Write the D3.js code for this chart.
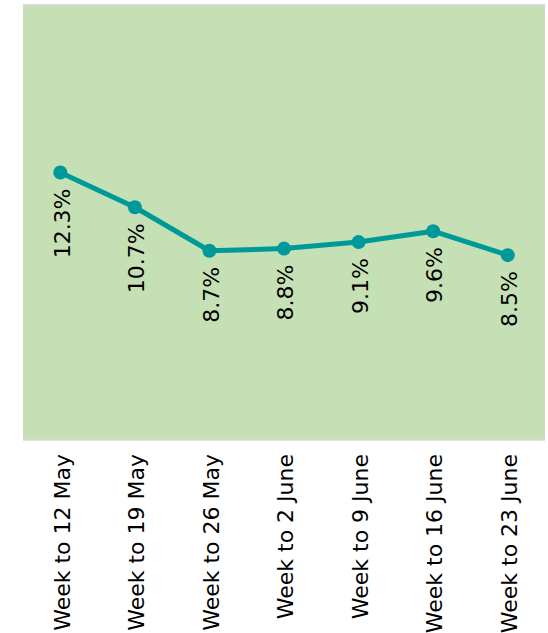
<!DOCTYPE html>
<html>
<head>
<meta charset="utf-8">
<script src="https://cdn.jsdelivr.net/npm/d3@7"></script>
<style>
  body { margin: 0; background: #fff; }
  text { font-family: "DejaVu Sans", Verdana, sans-serif; }
</style>
</head>
<body>
<div id="chart"></div>
<script>
// weekly share
const weeks = ["Week to 12 May", "Week to 19 May", "Week to 26 May", "Week to 2 June",
               "Week to 9 June", "Week to 16 June", "Week to 23 June"];
const shares = [12.3, 10.7, 8.7, 8.8, 9.1, 9.6, 8.5];
const yDomain = [0, 20];

const W = 548, H = 633;
const plot = { left: 23, right: 545, top: 5, bottom: 440 };

const svg = d3.select("#chart").append("svg")
    .attr("width", W)
    .attr("height", H);

const x = d3.scaleBand()
    .domain(weeks)
    .range([plot.left, plot.right]);

const y = d3.scaleLinear()
    .domain(yDomain)
    .range([plot.bottom, plot.top]);

// background
svg.append("rect")
    .attr("x", plot.left)
    .attr("y", plot.top)
    .attr("width", plot.right - plot.left)
    .attr("height", plot.bottom - plot.top)
    .attr("fill", "#c5e0b4");

svg.append("line")
    .attr("x1", plot.left).attr("x2", plot.right)
    .attr("y1", plot.top).attr("y2", plot.top)
    .attr("stroke", "#d9d9d9").attr("stroke-width", 2);

svg.append("line")
    .attr("x1", plot.left).attr("x2", plot.right)
    .attr("y1", plot.bottom).attr("y2", plot.bottom)
    .attr("stroke", "#d9d9d9").attr("stroke-width", 1.5);

const cx = d => x(d) + x.bandwidth() / 2;

const line = d3.line()
    .x((d, i) => cx(weeks[i]))
    .y(d => y(d));

svg.append("path")
    .datum(shares)
    .attr("d", line)
    .attr("fill", "none")
    .attr("stroke", "#009999")
    .attr("stroke-width", 5)
    .attr("stroke-linejoin", "round");

svg.selectAll(".dot")
    .data(shares)
    .enter().append("circle")
    .attr("class", "dot")
    .attr("cx", (d, i) => cx(weeks[i]))
    .attr("cy", d => y(d))
    .attr("r", 7)
    .attr("fill", "#009999");

// value labels, rotated under each point
svg.selectAll(".val")
    .data(shares)
    .enter().append("text")
    .attr("class", "val")
    .attr("transform", (d, i) => "translate(" + cx(weeks[i]) + "," + (y(d) + 16) + ") rotate(-90)")
    .attr("text-anchor", "end")
    .attr("dy", "0.42em")
    .style("font-size", "22px")
    .style("fill", "#000")
    .text(d => d.toFixed(1) + "%");

// category labels
svg.selectAll(".cat")
    .data(weeks)
    .enter().append("text")
    .attr("class", "cat")
    .attr("transform", d => "translate(" + cx(d) + "," + (plot.bottom + 14) + ") rotate(-90)")
    .attr("text-anchor", "end")
    .attr("dy", "0.42em")
    .style("font-size", "22px")
    .style("fill", "#000")
    .text(d => d);
</script>
</body>
</html>
